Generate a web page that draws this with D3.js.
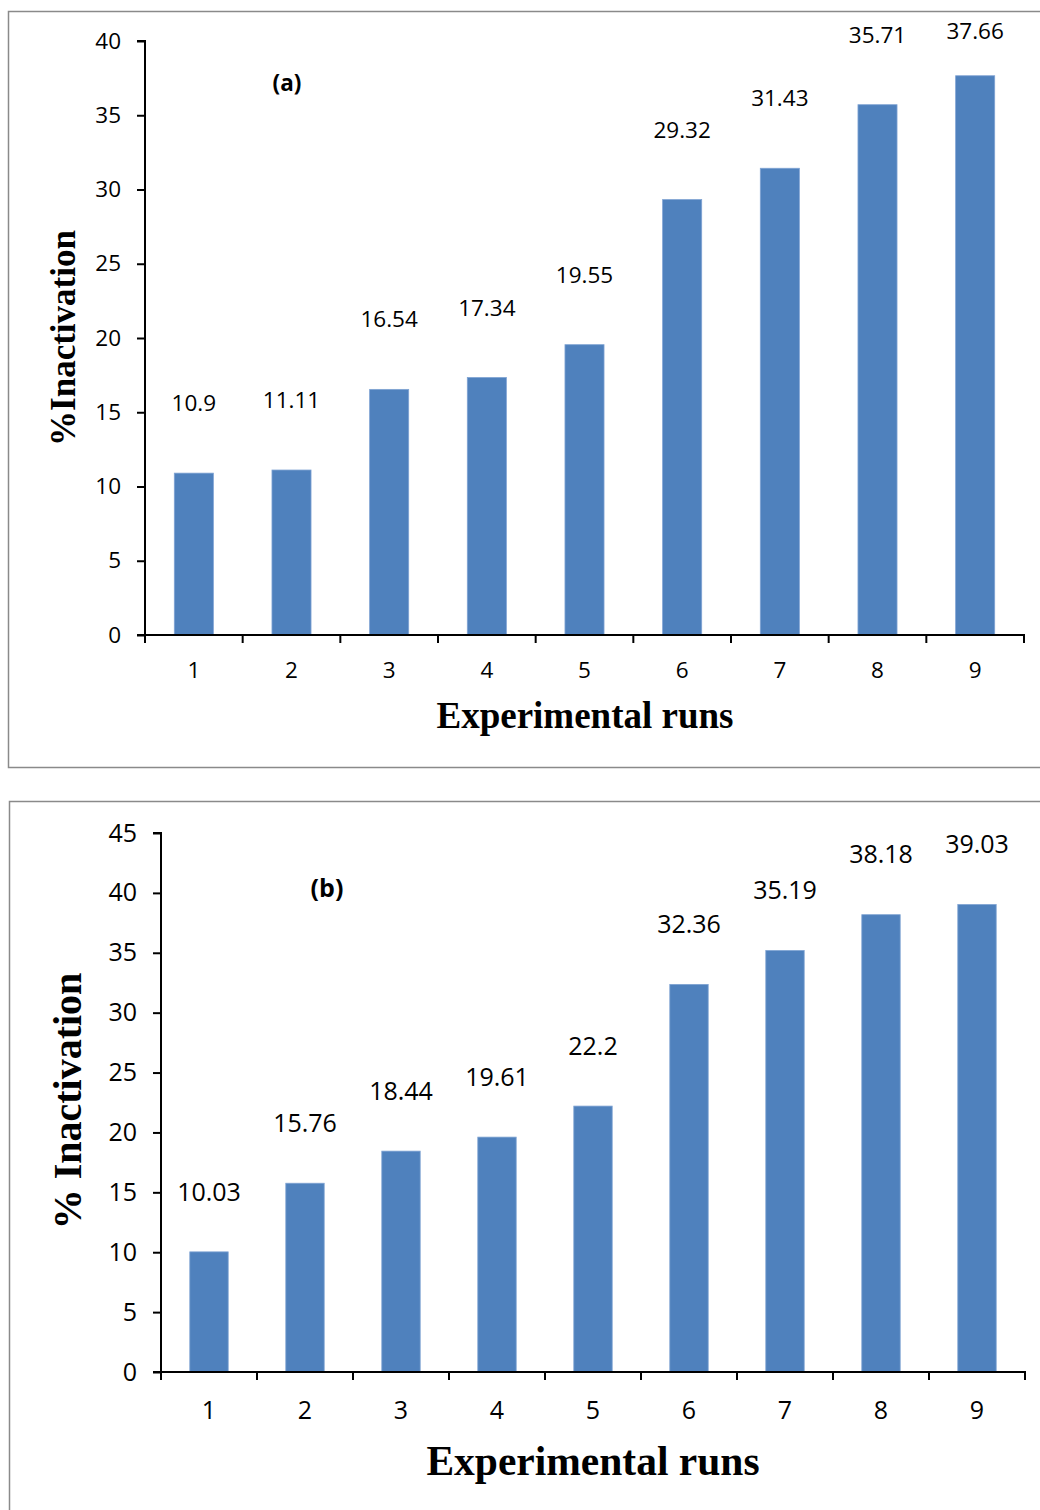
<!DOCTYPE html>
<html>
<head>
<meta charset="utf-8">
<script src="https://cdn.jsdelivr.net/npm/d3@7"></script>
<style>
  body { margin: 0; background: #fff; }
  svg { display: block; }
</style>
</head>
<body>
<svg width="1040" height="1510"></svg>
<script>
// data
const runs = ['1', '2', '3', '4', '5', '6', '7', '8', '9'];
const valuesA = [10.9, 11.11, 16.54, 17.34, 19.55, 29.32, 31.43, 35.71, 37.66];
const valuesB = [10.03, 15.76, 18.44, 19.61, 22.2, 32.36, 35.19, 38.18, 39.03];
const ticksA = [0, 5, 10, 15, 20, 25, 30, 35, 40];
const ticksB = [0, 5, 10, 15, 20, 25, 30, 35, 40, 45];

const barColor = '#4f81bd';
const svg = d3.select('svg');

function panel(opt) {
    let g = svg.append('g');

    // frame
    g.append('rect')
        .attr('x', opt.frame[0]).attr('y', opt.frame[1])
        .attr('width', opt.frame[2]).attr('height', opt.frame[3])
        .attr('fill', 'white')
        .attr('stroke', '#8a8a8a')
        .attr('stroke-width', 1.5);

    let x = d3.scaleBand().domain(runs)
        .range([opt.left, opt.right])
        .paddingInner(0.6).paddingOuter(0.3);
    let y = d3.scaleLinear().domain([0, d3.max(opt.ticks)])
        .range([opt.bottom, opt.top]);

    // bars
    g.selectAll('rect.bar')
        .data(opt.values)
        .enter()
        .append('rect')
        .attr('class', 'bar')
        .attr('x', (d, i) => x(runs[i]))
        .attr('width', x.bandwidth())
        .attr('y', d => y(d))
        .attr('height', d => y(0) - y(d))
        .attr('fill', barColor)
        .attr('stroke', '#7fa3d3')
        .attr('stroke-width', 0.8);

    // value labels
    g.selectAll('text.val')
        .data(opt.values)
        .enter()
        .append('text')
        .attr('x', (d, i) => x(runs[i]) + x.bandwidth() / 2)
        .attr('y', d => Math.max(y(d) - opt.labelGap, opt.labelMin))
        .attr('text-anchor', 'middle')
        .attr('dominant-baseline', 'middle')
        .style('font-family', '"Open Sans", sans-serif')
        .style('font-size', opt.fs + 'px')
        .text(d => d);

    // y axis
    let yAxis = d3.axisLeft(y).tickValues(opt.ticks).tickSize(8).tickPadding(16);
    let ya = g.append('g')
        .attr('transform', 'translate(' + opt.left + ',0)')
        .call(yAxis);
    ya.select('.domain').attr('stroke', 'black').attr('stroke-width', 2).attr('d', 'M-8,' + opt.top + 'H0V' + opt.bottom);
    ya.selectAll('.tick line').attr('stroke-width', 2);
    ya.selectAll('.tick text')
        .style('font-family', '"Open Sans", sans-serif')
        .style('font-size', opt.fs + 'px')
        .attr('fill', 'black');

    // x axis: ticks sit on band boundaries
    let edges = runs.map(r => x(r) - (x.step() - x.bandwidth()) / 2).concat([opt.right]);
    g.append('line')
        .attr('x1', opt.left - 8).attr('x2', opt.right + 1)
        .attr('y1', opt.bottom).attr('y2', opt.bottom)
        .attr('stroke', 'black').attr('stroke-width', 2);
    g.selectAll('line.xt')
        .data(edges)
        .enter()
        .append('line')
        .attr('x1', d => d).attr('x2', d => d)
        .attr('y1', opt.bottom).attr('y2', opt.bottom + 8)
        .attr('stroke', 'black').attr('stroke-width', 2);
    g.selectAll('text.xl')
        .data(runs)
        .enter()
        .append('text')
        .attr('x', d => x(d) + x.bandwidth() / 2)
        .attr('y', opt.bottom + opt.xlabDy)
        .attr('text-anchor', 'middle')
        .style('font-family', '"Open Sans", sans-serif')
        .style('font-size', opt.fs + 'px')
        .text(d => d);

    // titles
    g.append('text')
        .attr('x', opt.xTitle[0]).attr('y', opt.xTitle[1])
        .attr('text-anchor', 'middle')
        .style('font-family', '"Liberation Serif", serif')
        .style('font-weight', 'bold')
        .style('font-size', opt.titleFs + 'px')
        .text('Experimental runs');
    g.append('text')
        .attr('transform', 'translate(' + opt.yTitle[0] + ',' + opt.yTitle[1] + ') rotate(-90)')
        .attr('text-anchor', 'middle')
        .attr('dominant-baseline', 'middle')
        .style('font-family', '"Liberation Serif", serif')
        .style('font-weight', 'bold')
        .style('font-size', opt.yTitleFs + 'px')
        .text(opt.yLabel);
    g.append('text')
        .attr('x', opt.tag[0]).attr('y', opt.tag[1])
        .attr('text-anchor', 'middle')
        .attr('dominant-baseline', 'middle')
        .style('font-family', '"Open Sans", sans-serif')
        .style('font-weight', 'bold')
        .style('font-size', opt.fs + 'px')
        .text(opt.tagText);
}

panel({
    frame: [8.5, 11.5, 1040, 756],
    left: 145, right: 1024, top: 41, bottom: 635,
    values: valuesA, ticks: ticksA,
    labelGap: 68, labelMin: 33,
    fs: 22.5, xlabDy: 43,
    xTitle: [585, 728], titleFs: 37,
    yTitle: [67, 338], yTitleFs: 35, yLabel: '%Inactivation',
    tag: [287, 85], tagText: '(a)'
});

panel({
    frame: [9.5, 801.5, 1040, 720],
    left: 161, right: 1025, top: 833, bottom: 1372,
    values: valuesB, ticks: ticksB,
    labelGap: 58, labelMin: 846,
    fs: 25, xlabDy: 47,
    xTitle: [593, 1475], titleFs: 41.5,
    yTitle: [72, 1101], yTitleFs: 40, yLabel: '% Inactivation',
    tag: [327, 890], tagText: '(b)'
});
</script>
</body>
</html>
